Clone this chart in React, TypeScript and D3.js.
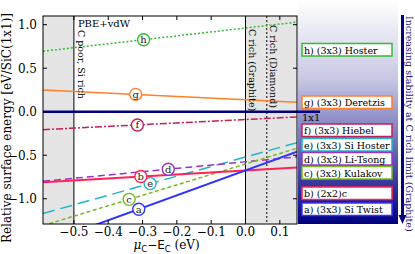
import React from "react";
import * as d3 from "d3";

// chemical potential window shown on the x axis (eV)
const muRange = [-0.59, 0.15];
const muLimits = [-0.5, 0.0];
const muDiamond = 0.062;

// surface energies (eV / SiC(1x1)) read at the two ends of the window
const surfaceIds = ["h", "g", "f", "e", "d", "c", "b", "a"];
const energyAtPoor = [0.695, 0.251, -0.206, -1.169, -0.799, -1.308, -0.81, -1.519];
const energyAtRich = [1.03, 0.11, -0.06, -0.355, -0.518, -0.42, -0.64, -0.46];
const markerMu = [-0.297, -0.32, -0.315, -0.278, -0.225, -0.339, -0.305, -0.311];
const legendLabels = [
  "h) (3x3) Hoster",
  "g) (3x3) Deretzis",
  "f) (3x3) Hiebel",
  "e) (3x3) Si Hoster",
  "d) (3x3) Li-Tsong",
  "c) (3x3) Kulakov",
  "b) (2x2)c",
  "a) (3x3) Si Twist",
];

const xTicks = [-0.5, -0.4, -0.3, -0.2, -0.1, 0.0, 0.1];
const yTicks = [-1.0, -0.5, 0.0, 0.5, 1.0];

const COLORS = ["#33bb33", "#ff7f2a", "#c41e5e", "#22b4c8", "#9933cc", "#77bb22", "#ff2255", "#3333ff"];
const DASHES = ["2,2", null, "7,2,2,2", "12,6", "7,4", "4,2.5", null, null];
const LEGEND_TOP = [43.5, 96, 124, 138.5, 152.5, 166.5, 187, 203];

const W = 415;
const H = 254;
const MARGIN = { top: 16, right: 118, bottom: 30, left: 43 };
const FONT = "DejaVu Serif";

export default function App() {
  const boundsW = W - MARGIN.left - MARGIN.right;
  const boundsH = H - MARGIN.top - MARGIN.bottom;

  const xScale = d3.scaleLinear().domain(muRange).range([0, boundsW]);
  const yScale = d3.scaleLinear().domain([-1.29, 1.1]).range([boundsH, 0]);

  const line = d3
    .line<[number, number]>()
    .x((d) => xScale(d[0]))
    .y((d) => yScale(d[1]));

  const series = surfaceIds.map((id, i) => {
    const e = d3.scaleLinear().domain(muRange).range([energyAtPoor[i], energyAtRich[i]]);
    return {
      id,
      color: COLORS[i],
      dash: DASHES[i],
      path: line([
        [muRange[0], energyAtPoor[i]],
        [muRange[1], energyAtRich[i]],
      ]),
      mx: xScale(markerMu[i]),
      my: yScale(e(markerMu[i])),
    };
  });

  const tickLen = 4;
  const panelX = MARGIN.left + boundsW + 1;

  return (
    <svg
      width={W}
      height={H}
      style={{ position: "fixed", left: 0, top: 0, background: "#fff" }}
      fontFamily={FONT}
    >
      <defs>
        <linearGradient id="panelGrad" x1="0" y1="0" x2="0" y2="1">
          <stop offset="0" stopColor="#ffffff" />
          <stop offset="0.35" stopColor="#c8c8e4" />
          <stop offset="1" stopColor="#000080" />
        </linearGradient>
        <clipPath id="plotClip">
          <rect x={0} y={0} width={boundsW} height={boundsH} />
        </clipPath>
      </defs>

      {/* legend background */}
      <rect x={panelX} y={0} width={398 - panelX} height={MARGIN.top + boundsH} fill="url(#panelGrad)" />

      <g transform={`translate(${MARGIN.left},${MARGIN.top})`}>
        {/* excluded regions */}
        <rect x={0} y={0} width={xScale(muLimits[0])} height={boundsH} fill="#e5e5e5" />
        <rect x={xScale(muLimits[1])} y={0} width={boundsW - xScale(muLimits[1])} height={boundsH} fill="#e5e5e5" />
        <rect x={xScale(muLimits[0])} y={0} width={xScale(muLimits[1]) - xScale(muLimits[0])} height={boundsH} fill="#fff" />

        <line x1={xScale(muLimits[0])} x2={xScale(muLimits[0])} y1={0} y2={boundsH} stroke="#000" strokeWidth={1} />
        <line x1={xScale(muLimits[1])} x2={xScale(muLimits[1])} y1={0} y2={boundsH} stroke="#000" strokeWidth={1} />
        <line x1={xScale(muDiamond)} x2={xScale(muDiamond)} y1={0} y2={boundsH} stroke="#000" strokeWidth={1} strokeDasharray="2,2" />

        <g clipPath="url(#plotClip)">
          {series.map((s) => (
            <path
              key={s.id}
              d={s.path || ""}
              fill="none"
              stroke={s.color}
              strokeWidth={s.id === "a" || s.id === "b" ? 2 : 1.5}
              strokeDasharray={s.dash || undefined}
            />
          ))}
        </g>

        {/* 1x1 reference */}
        <line x1={0} x2={277} y1={yScale(0)} y2={yScale(0)} stroke="#000080" strokeWidth={2.5} />
        <text x={259} y={yScale(0) + 9.5} fontSize={10}>1x1</text>

        {series.map((s) => (
          <g key={s.id}>
            <circle cx={s.mx} cy={s.my} r={6} fill="#fff" stroke={s.color} strokeWidth={1.4} />
            <text x={s.mx} y={s.my + 3.5} fontSize={10} textAnchor="middle" fill="#222">
              {s.id}
            </text>
          </g>
        ))}

        {/* frame and ticks */}
        <rect x={0} y={0} width={boundsW} height={boundsH} fill="none" stroke="#000" strokeWidth={1} />
        {xTicks.map((t) => (
          <g key={t} transform={`translate(${xScale(t)},0)`}>
            <line y1={boundsH} y2={boundsH - tickLen} stroke="#000" />
            <line y1={0} y2={tickLen} stroke="#000" />
            <text y={boundsH + 12} fontSize={12} textAnchor="middle">
              {d3.format(".1f")(t).replace("-", "\u2212")}
            </text>
          </g>
        ))}
        {yTicks.map((t) => (
          <g key={t} transform={`translate(0,${yScale(t)})`}>
            <line x1={0} x2={tickLen} stroke="#000" />
            <line x1={boundsW} x2={boundsW - tickLen} stroke="#000" />
            <text x={-6} y={4.5} fontSize={12} textAnchor="end">
              {d3.format(".1f")(t).replace("-", "\u2212")}
            </text>
          </g>
        ))}

        <text x={xScale(muLimits[0]) + 4} y={11} fontSize={10}>PBE+vdW</text>
        <text transform={`translate(${xScale(muLimits[0]) + 4},14) rotate(90)`} fontSize={9.5}>
          C poor, Si rich
        </text>
        <text transform={`translate(${xScale(muLimits[1]) + 3},13) rotate(90)`} fontSize={9.5}>
          C rich (Graphite)
        </text>
        <text transform={`translate(${xScale(muDiamond) + 3},9) rotate(90)`} fontSize={9.5}>
          C rich (Diamond)
        </text>
      </g>

      {/* axis titles */}
      <text transform={`translate(11,${MARGIN.top + boundsH / 2 + 8}) rotate(-90)`} fontSize={12} textAnchor="middle">
        Relative surface energy [eV/SiC(1x1)]
      </text>
      <text x={MARGIN.left + xScale(-0.23)} y={249} fontSize={12} textAnchor="middle">
        <tspan fontStyle="italic">μ</tspan>
        <tspan fontSize={8.5} dy={2.5} fontFamily="DejaVu Sans">C</tspan>
        <tspan dy={-2.5} fontFamily="DejaVu Sans">−E</tspan>
        <tspan fontSize={8.5} dy={2.5} fontFamily="DejaVu Sans">C</tspan>
        <tspan dy={-2.5}> (eV)</tspan>
      </text>

      {/* legend boxes */}
      {legendLabels.map((label, i) => (
        <g key={label} transform={`translate(302,${LEGEND_TOP[i]})`}>
          <rect x={0} y={0} width={90} height={12.5} fill="#fff" stroke={COLORS[i]} strokeWidth={1.5} />
          <text x={2} y={10} fontSize={9.5}>{label}</text>
        </g>
      ))}

      {/* stability arrow */}
      <line x1={402.5} x2={402.5} y1={15} y2={216} stroke="#000080" strokeWidth={3} />
      <path d="M398.5,215 L406.5,215 L402.5,224 Z" fill="#000080" />
      <text transform="translate(406,16) rotate(90)" fontSize={9.5} fill="#1a1a8c">
        Increasing stability at C rich limit (Graphite)
      </text>
    </svg>
  );
}
